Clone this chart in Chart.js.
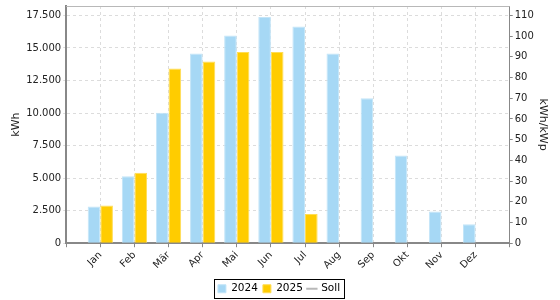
<!DOCTYPE html>
<html>
<head>
<meta charset="utf-8">
<script src="https://cdn.jsdelivr.net/npm/chart.js@4"></script>
<style>
  html, body { margin: 0; padding: 0; background: #fff; }
  #wrap { width: 560px; height: 300px; }
</style>
</head>
<body>
<div id="wrap"><canvas id="ertragChart"></canvas></div>
<script>
// Monatsdaten
const monate = ['Jan', 'Feb', 'Mär', 'Apr', 'Mai', 'Jun', 'Jul', 'Aug', 'Sep', 'Okt', 'Nov', 'Dez'];
const ertrag2024 = [2820, 5140, 10020, 14570, 15950, 17380, 16640, 14570, 11140, 6740, 2440, 1450];
const ertrag2025 = [2900, 5420, 13410, 13960, 14680, 14680, 2240, null, null, null, null, null];
const soll = [null, null, null, null, null, null, null, null, null, null, null, null];
const kwhTicks = [0, 2500, 5000, 7500, 10000, 12500, 15000, 17500];
const spezTicks = [0, 10, 20, 30, 40, 50, 60, 70, 80, 90, 100, 110];

// leerer Platz links und rechts der Monate
const pad = arr => [null].concat(arr, [null]);
const labels = [''].concat(monate, ['']);

const fmt = v => String(v).replace(/\B(?=(\d{3})+(?!\d))/g, '.');

// keine Extra-Polsterung oben für die Y-Achsen
const noTopPad = s => { s.paddingTop = 0; };

// Rahmen um die Legende + obere Linie
const extras = {
    id: 'extras',
    afterDraw(chart) {
        const ctx = chart.ctx;
        const a = chart.chartArea;
        ctx.save();
        ctx.strokeStyle = '#b8b8b8';
        ctx.lineWidth = 1;
        ctx.beginPath();
        ctx.moveTo(a.left, Math.round(a.top) + 0.5);
        ctx.lineTo(a.right, Math.round(a.top) + 0.5);
        ctx.stroke();

        const boxes = chart.legend.legendHitBoxes;
        if (boxes && boxes.length) {
            const l = Math.min(...boxes.map(b => b.left)) - 4;
            const r = Math.max(...boxes.map(b => b.left + b.width)) + 4;
            const cy = boxes[0].top + boxes[0].height / 2;
            ctx.strokeStyle = '#000';
            ctx.strokeRect(Math.round(l) + 0.5, Math.round(cy - 10) + 0.5, Math.round(r - l), 19);
        }
        ctx.restore();
    }
};

Chart.defaults.font.family = 'DejaVu Sans';
Chart.defaults.font.size = 10;
Chart.defaults.color = '#222';

const ctxErtrag = document.getElementById('ertragChart').getContext('2d');
new Chart(ctxErtrag, {
    type: 'bar',
    data: {
        labels: labels,
        datasets: [{
            label: '2024',
            data: pad(ertrag2024),
            backgroundColor: '#a6d8f5',
            borderColor: '#c3e5f8',
            borderWidth: 1,
            pointStyle: 'rect',
            yAxisID: 'y'
        }, {
            label: '2025',
            data: pad(ertrag2025),
            backgroundColor: '#ffcc00',
            borderColor: '#ffdd55',
            borderWidth: 1,
            pointStyle: 'rect',
            yAxisID: 'y'
        }, {
            type: 'line',
            label: 'Soll',
            data: pad(soll),
            borderColor: '#b8b8b8',
            backgroundColor: '#b8b8b8',
            borderWidth: 2,
            pointStyle: 'line',
            yAxisID: 'y1'
        }]
    },
    options: {
        responsive: true,
        maintainAspectRatio: false,
        animation: false,
        layout: { padding: { left: 9, right: 11, top: 2, bottom: -4 } },
        datasets: { bar: { categoryPercentage: 0.74, barPercentage: 1 } },
        scales: {
            x: {
                offset: false,
                grid: { offset: false, color: '#dcdcdc', tickColor: '#888', tickLength: 4 },
                border: { display: true, color: '#888', width: 2, dash: [3, 3] },
                ticks: { minRotation: 45, maxRotation: 45, autoSkip: false, padding: 2 },
                afterFit: s => { s.height += 5; }
            },
            y: {
                position: 'left',
                min: 0,
                max: 18220,
                afterBuildTicks: s => { s.ticks = kwhTicks.map(v => ({ value: v })); },
                afterFit: noTopPad,
                ticks: { callback: v => fmt(v), padding: 2 },
                grid: { color: '#dcdcdc', tickLength: 3 },
                border: { color: '#888', width: 2, dash: [3, 3] },
                title: { display: true, text: 'kWh', font: { size: 11 }, padding: 1 }
            },
            y1: {
                position: 'right',
                min: 0,
                max: 114.5,
                afterBuildTicks: s => { s.ticks = spezTicks.map(v => ({ value: v })); },
                afterFit: noTopPad,
                ticks: { padding: 2 },
                grid: { drawOnChartArea: false, color: '#888', tickLength: 3 },
                border: { color: '#888', width: 1 },
                title: { display: true, text: 'kWh/kWp', font: { size: 11 }, padding: 0 }
            }
        },
        plugins: {
            legend: {
                position: 'bottom',
                labels: {
                    usePointStyle: true,
                    boxWidth: 8,
                    boxHeight: 8,
                    padding: 5,
                    font: { size: 10.5 },
                    color: '#000'
                }
            },
            tooltip: { enabled: false }
        }
    },
    plugins: [extras]
});
</script>
</body>
</html>
